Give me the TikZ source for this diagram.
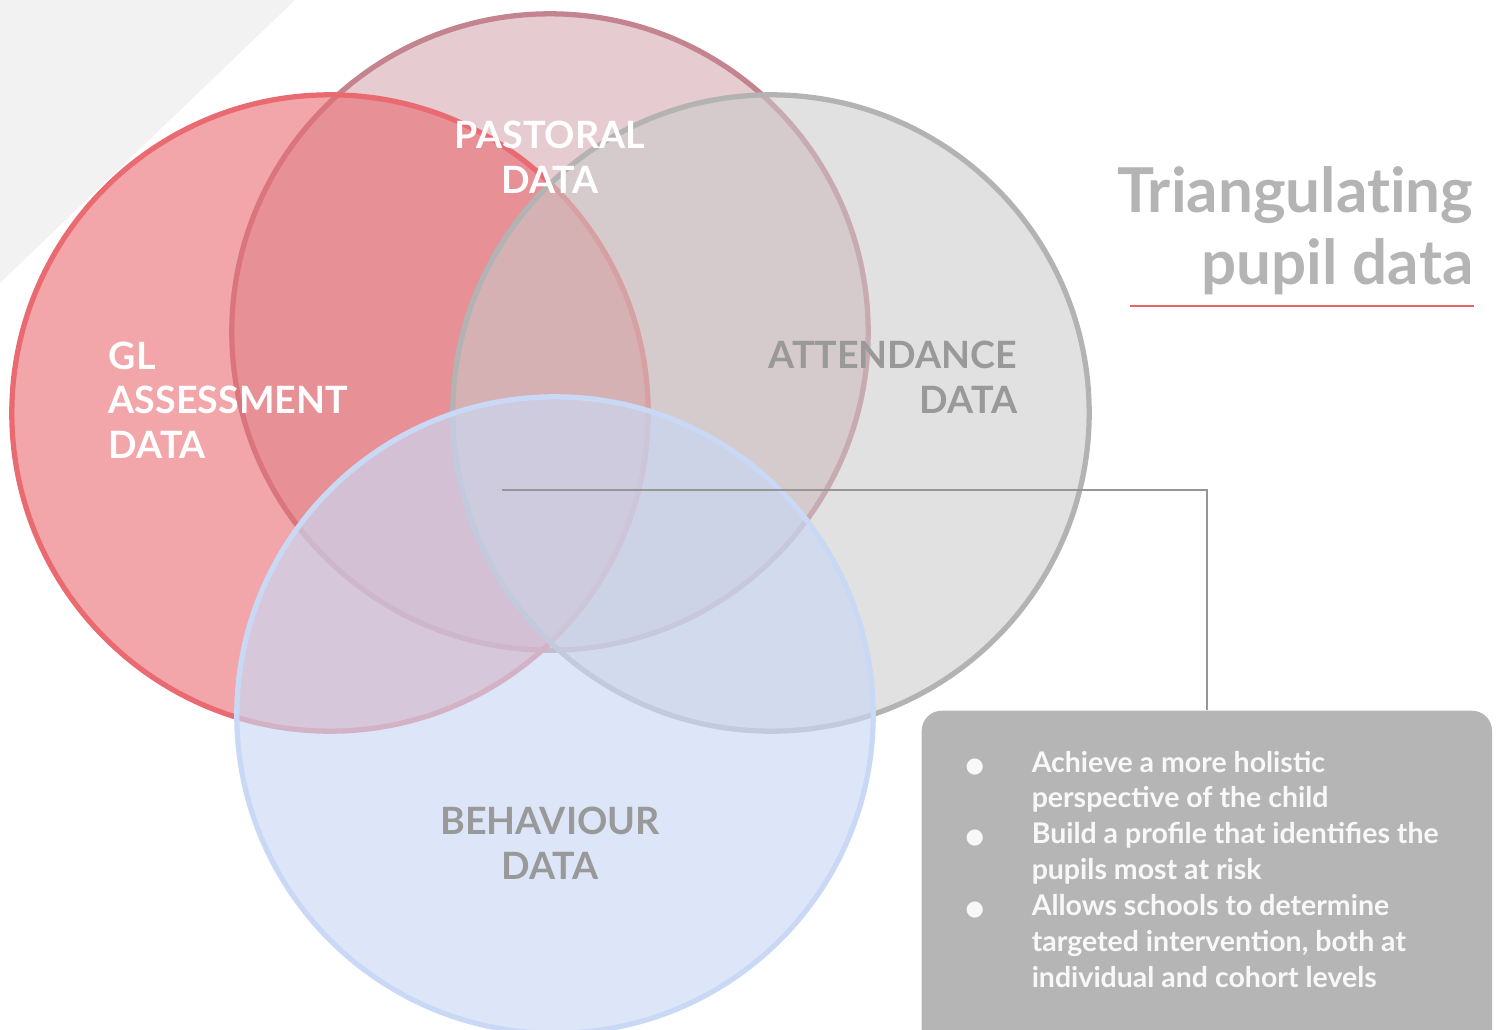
\documentclass[tikz,border=0pt]{standalone}
\usepackage{fontspec}
\setmainfont{Lato}
\newfontfamily\symfont{DejaVu Sans}
\usetikzlibrary{positioning}

\definecolor{glred}{RGB}{233,107,113}
\definecolor{pastoralrose}{RGB}{196,132,143}
\definecolor{attendgrey}{RGB}{179,179,179}
\definecolor{attendfill}{RGB}{202,202,202}
\definecolor{behavblue}{RGB}{201,217,245}
\definecolor{labelgrey}{RGB}{153,153,153}
\definecolor{titlegrey}{RGB}{180,180,180}
\definecolor{cornergrey}{RGB}{242,242,242}
\definecolor{notegrey}{RGB}{181,181,181}
\definecolor{notetext}{RGB}{248,248,248}
\definecolor{leadergrey}{RGB}{150,150,150}
\definecolor{rulered}{RGB}{232,100,106}

\newcommand{\blt}{\makebox[0.66cm][l]{\symfont\fontsize{6}{6}\selectfont ●}}

\tikzset{
  set/.style={line width=1.5pt},
  setlabel/.style={font=\bfseries\fontsize{10.7}{12.6}\selectfont, inner sep=0pt},
  title/.style={font=\bfseries\fontsize{17.6}{20.2}\selectfont\addfontfeature{Ligatures=NoCommon},
    text=titlegrey, align=right, inner sep=0pt},
  notebox/.style={fill=notegrey, rounded corners=0.2cm, minimum width=5.7cm, minimum height=3.4cm, inner sep=0pt},
  points/.style={font=\bfseries\fontsize{8.1}{10.2}\selectfont, text=notetext, inner sep=0pt},
  leader/.style={draw=leadergrey, line width=0.45pt},
}

\begin{document}
\begin{tikzpicture}[x=0.01cm, y=-0.01cm]
  \useasboundingbox (0,0) rectangle (1496,1030);
  % corner wedge
  \fill[cornergrey] (0,0) -- (295,0) -- (0,283) -- cycle;
  % the four data sets, back to front
  \fill[pastoralrose, fill opacity=0.42] (550,332) circle (3.18cm);
  \draw[set, pastoralrose] (550,332) circle (3.18cm);
  \fill[glred, fill opacity=0.6] (330,413) circle (3.18cm);
  \draw[set, glred] (330,413) circle (3.18cm);
  \fill[attendfill, fill opacity=0.57] (771,413) circle (3.18cm);
  \draw[set, attendgrey] (771,413) circle (3.18cm);
  \fill[behavblue, fill opacity=0.65] (555,715) circle (3.18cm);
  \draw[set, behavblue] (555,715) circle (3.18cm);
  % labels (base = last line)
  \node[setlabel, text=white, align=left, anchor=base west] (gl) at (108,458) {GL\\ASSESSMENT\\DATA};
  \node[setlabel, text=white, align=center, anchor=base] (pastoral) at (550,193) {PASTORAL\\DATA};
  \node[setlabel, text=labelgrey, align=right, anchor=base east] (attendance) at (1018,413) {ATTENDANCE\\DATA};
  \node[setlabel, text=labelgrey, align=center, anchor=base] (behaviour) at (550,879) {BEHAVIOUR\\DATA};
  % title
  \node[title, anchor=base east] (heading) at (1474,284) {Triangulating\\pupil data};
  \draw[rulered, line width=0.7pt] (1130,306) -- (1474,306);
  % notes box and its leader
  \node[notebox, anchor=north west] (notes) at (921,710) {};
  \coordinate (centre) at (502,490);
  \draw[leader] (centre) -| (notes.north);
  \node[points, anchor=base west] (list) at (965,772) {%
    \begin{tabular}[t]{@{}l@{}l@{}}
      \blt & Achieve a more holistic\\
           & perspective of the child\\
      \blt & Build a profile that identifies the\\
           & pupils most at risk\\
      \blt & Allows schools to determine\\
           & targeted intervention, both at\\
           & individual and cohort levels
    \end{tabular}};
\end{tikzpicture}
\end{document}
